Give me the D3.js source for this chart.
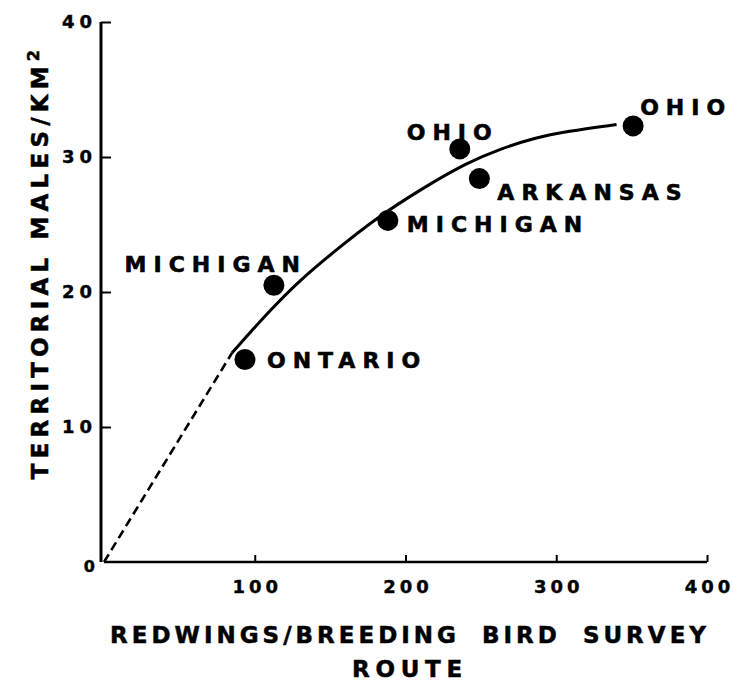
<!DOCTYPE html>
<html><head><meta charset="utf-8">
<script src="https://cdn.jsdelivr.net/npm/d3@7"></script>
<style>
html,body{margin:0;padding:0;background:#fff;}
text{font-family:"DejaVu Sans",sans-serif;font-weight:bold;fill:#000;}
</style></head>
<body><svg id="c" width="734" height="681"></svg>
<script>
const sites = ["ONTARIO","MICHIGAN","MICHIGAN","OHIO","ARKANSAS","OHIO"];
const redwings = [93.5, 112.7, 188.3, 236, 249, 351];
const males = [15.0, 20.5, 25.3, 30.6, 28.4, 32.3];
const curveX = [85, 108, 130, 156, 181, 210, 241, 263, 285, 307, 340];
const curveY = [15.5, 18.4, 20.9, 23.3, 25.5, 27.6, 29.6, 30.6, 31.4, 31.9, 32.4];
const dashX = [0, 85];
const dashY = [0, 15.5];
const xTicks = [100, 200, 300, 400];
const yTicks = [10, 20, 30, 40];
// label offsets (px) : dx, dy, anchor
const labelPos = [[22,8,"start"],[33,-13,"end"],[19,12,"start"],[-7,-9,"middle"],[18,21,"start"],[7,-11,"start"]];

const svg = d3.select("#c");
const x = d3.scaleLinear().domain([0,400]).range([104,707]);
const y = d3.scaleLinear().domain([0,40]).range([562,22]);

// axes
const xAxis = d3.axisBottom(x).tickValues(xTicks).tickSize(-7).tickPadding(17).tickFormat(d3.format("d"));
const gx = svg.append("g").attr("transform","translate(0,562)").call(xAxis);
gx.select(".domain").attr("d",`M${x(0)},0H${x(400)}`).attr("stroke","#000").attr("stroke-width",2.4);
gx.selectAll(".tick line").attr("stroke","#000").attr("stroke-width",2);
gx.selectAll(".tick text").attr("font-size",18).attr("letter-spacing","4px").attr("dx","2px")
  .attr("font-family","DejaVu Sans").attr("font-weight","bold").attr("dy","0.75em")
  .attr("stroke","#000").attr("stroke-width",0.4);

const yAxis = d3.axisLeft(y).tickValues(yTicks).tickSize(-10).tickPadding(4).tickFormat(d3.format("d"));
const gy = svg.append("g").attr("transform","translate(101,0)").call(yAxis);
gy.select(".domain").attr("d",`M0,${y(0)}V${y(40)}`).attr("stroke","#000").attr("stroke-width",3);
gy.selectAll(".tick line").attr("stroke","#000").attr("stroke-width",2);
gy.selectAll(".tick text").attr("font-size",18).attr("letter-spacing","5px")
  .attr("font-family","DejaVu Sans").attr("font-weight","bold")
  .attr("stroke","#000").attr("stroke-width",0.4);
svg.append("text").attr("x",95).attr("y",572).attr("text-anchor","end").attr("font-size",16)
  .attr("stroke","#000").attr("stroke-width",0.4).text("0");

// lines
const line = d3.line().x(d=>x(d[0])).y(d=>y(d[1]));
svg.append("path").datum(dashX.map((v,i)=>[v,dashY[i]])).attr("d",line)
  .attr("fill","none").attr("stroke","#000").attr("stroke-width",2.6).attr("stroke-dasharray","9,5");
svg.append("path").datum(curveX.map((v,i)=>[v,curveY[i]])).attr("d",line.curve(d3.curveBasis))
  .attr("fill","none").attr("stroke","#000").attr("stroke-width",3);

// points
const pts = sites.map((s,i)=>({s, xv:redwings[i], yv:males[i], p:labelPos[i]}));
svg.selectAll("circle.pt").data(pts).join("circle").attr("class","pt")
  .attr("cx",d=>x(d.xv)).attr("cy",d=>y(d.yv)).attr("r",10.5).attr("fill","#000");
svg.selectAll("text.lab").data(pts).join("text").attr("class","lab")
  .attr("x",d=>x(d.xv)+d.p[0]).attr("y",d=>y(d.yv)+d.p[1])
  .attr("text-anchor",d=>d.p[2]).attr("font-size",22).attr("letter-spacing","7px")
  .attr("stroke","#000").attr("stroke-width",0.6)
  .text(d=>d.s);

// axis titles
svg.append("text").attr("x",410).attr("y",643).attr("text-anchor","middle").attr("font-size",23)
  .attr("letter-spacing","4px").attr("word-spacing","10px").attr("stroke","#000").attr("stroke-width",0.5)
  .text("REDWINGS/BREEDING BIRD SURVEY");
svg.append("text").attr("x",410).attr("y",677).attr("text-anchor","middle").attr("font-size",23)
  .attr("letter-spacing","5.7px").attr("stroke","#000").attr("stroke-width",0.5).text("ROUTE");
const yt = svg.append("text").attr("transform","translate(48,262) rotate(-90)").attr("text-anchor","middle")
  .attr("font-size",23).attr("letter-spacing","5.2px").attr("stroke","#000").attr("stroke-width",0.5);
yt.append("tspan").text("TERRITORIAL MALES/KM");
yt.append("tspan").attr("dy",-9).attr("font-size",16).text("2");
</script></body></html>
